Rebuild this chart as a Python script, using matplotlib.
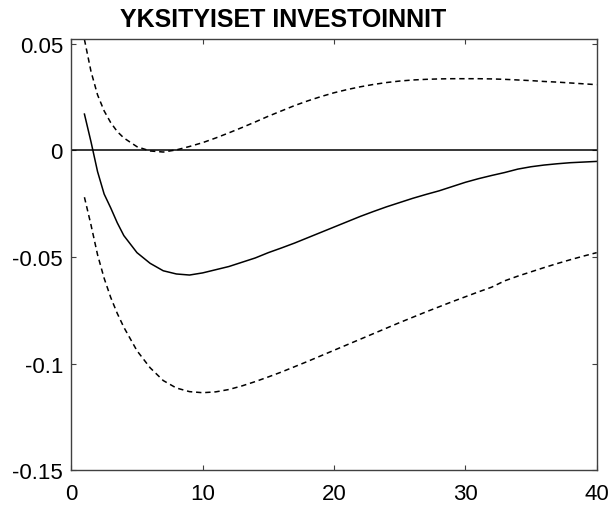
import matplotlib
matplotlib.use('Agg')
import matplotlib.pyplot as plt

periods = [1, 1.5, 2, 2.5, 3, 3.5] + list(range(4, 41))

# impulse response (solid) and confidence bands (dashed)
response = [0.017, 0.004, -0.010, -0.0205, -0.027, -0.034, -0.040, -0.048, -0.053, -0.0565, -0.058, -0.0585, -0.0575,
            -0.0560, -0.0545, -0.0525, -0.0505, -0.0480, -0.0458, -0.0435, -0.0410, -0.0385, -0.0360,
            -0.0335, -0.0310, -0.0287, -0.0265, -0.0245, -0.0225, -0.0207, -0.0190, -0.0170, -0.0150,
            -0.0133, -0.0118, -0.0104, -0.0088, -0.0077, -0.0069, -0.0063, -0.0058, -0.0055, -0.0052]
upper = [0.052, 0.037, 0.026, 0.0185, 0.013, 0.0088, 0.0058, 0.0017, -0.0003, -0.0008, 0.0002, 0.0018, 0.0036,
         0.0058, 0.0082, 0.0107, 0.0133, 0.0160, 0.0185, 0.0210, 0.0232, 0.0252, 0.0270,
         0.0285, 0.0298, 0.0309, 0.0318, 0.0325, 0.0330, 0.0333, 0.0335, 0.0336, 0.0336,
         0.0336, 0.0335, 0.0333, 0.0330, 0.0327, 0.0323, 0.0320, 0.0316, 0.0312, 0.0308]
lower = [-0.022, -0.035, -0.049, -0.060, -0.069, -0.0765, -0.083, -0.094, -0.102, -0.108, -0.1115, -0.1132, -0.1137,
         -0.1133, -0.1122, -0.1105, -0.1085, -0.1063, -0.1040, -0.1015, -0.0990, -0.0964, -0.0938,
         -0.0912, -0.0886, -0.0860, -0.0834, -0.0808, -0.0783, -0.0758, -0.0734, -0.0710, -0.0687,
         -0.0664, -0.0642, -0.0612, -0.0590, -0.0570, -0.0550, -0.0531, -0.0513, -0.0496, -0.0480]

xticks = [0, 10, 20, 30, 40]
yticks = [-0.15, -0.1, -0.05, 0, 0.05]
yticklabels = ['-0.15', '-0.1', '-0.05', '0', '0.05']

plt.rcParams['font.family'] = ['Liberation Sans', 'DejaVu Sans']

fig = plt.figure(figsize=(6.12, 5.06), dpi=100)
ax = fig.add_axes([0.1165, 0.069, 0.8585, 0.851])

ax.axhline(0, color='black', lw=1.1)
ax.plot(periods, response, color='black', lw=1.1)
ax.plot(periods, upper, color='black', lw=1.1, dashes=(3.5, 2.5))
ax.plot(periods, lower, color='black', lw=1.1, dashes=(3.5, 2.5))

ax.set_xlim(0, 40)
ax.set_ylim(-0.15, 0.052)
ax.set_xticks(xticks)
ax.set_yticks(yticks)
ax.set_yticklabels(yticklabels)
ax.tick_params(direction='in', length=3.6, width=0.8, color='#404040',
               top=True, right=True, labelsize=16)
ax.tick_params(axis='x', pad=9.5)
ax.tick_params(axis='y', pad=6)
for s in ax.spines.values():
    s.set_color('#404040')
    s.set_linewidth(1.0)

ax.text(0.403, 1.02, 'YKSITYISET INVESTOINNIT', transform=ax.transAxes,
        ha='center', va='bottom', fontsize=18, fontweight='bold')

fig.savefig('out.png', dpi=100)
